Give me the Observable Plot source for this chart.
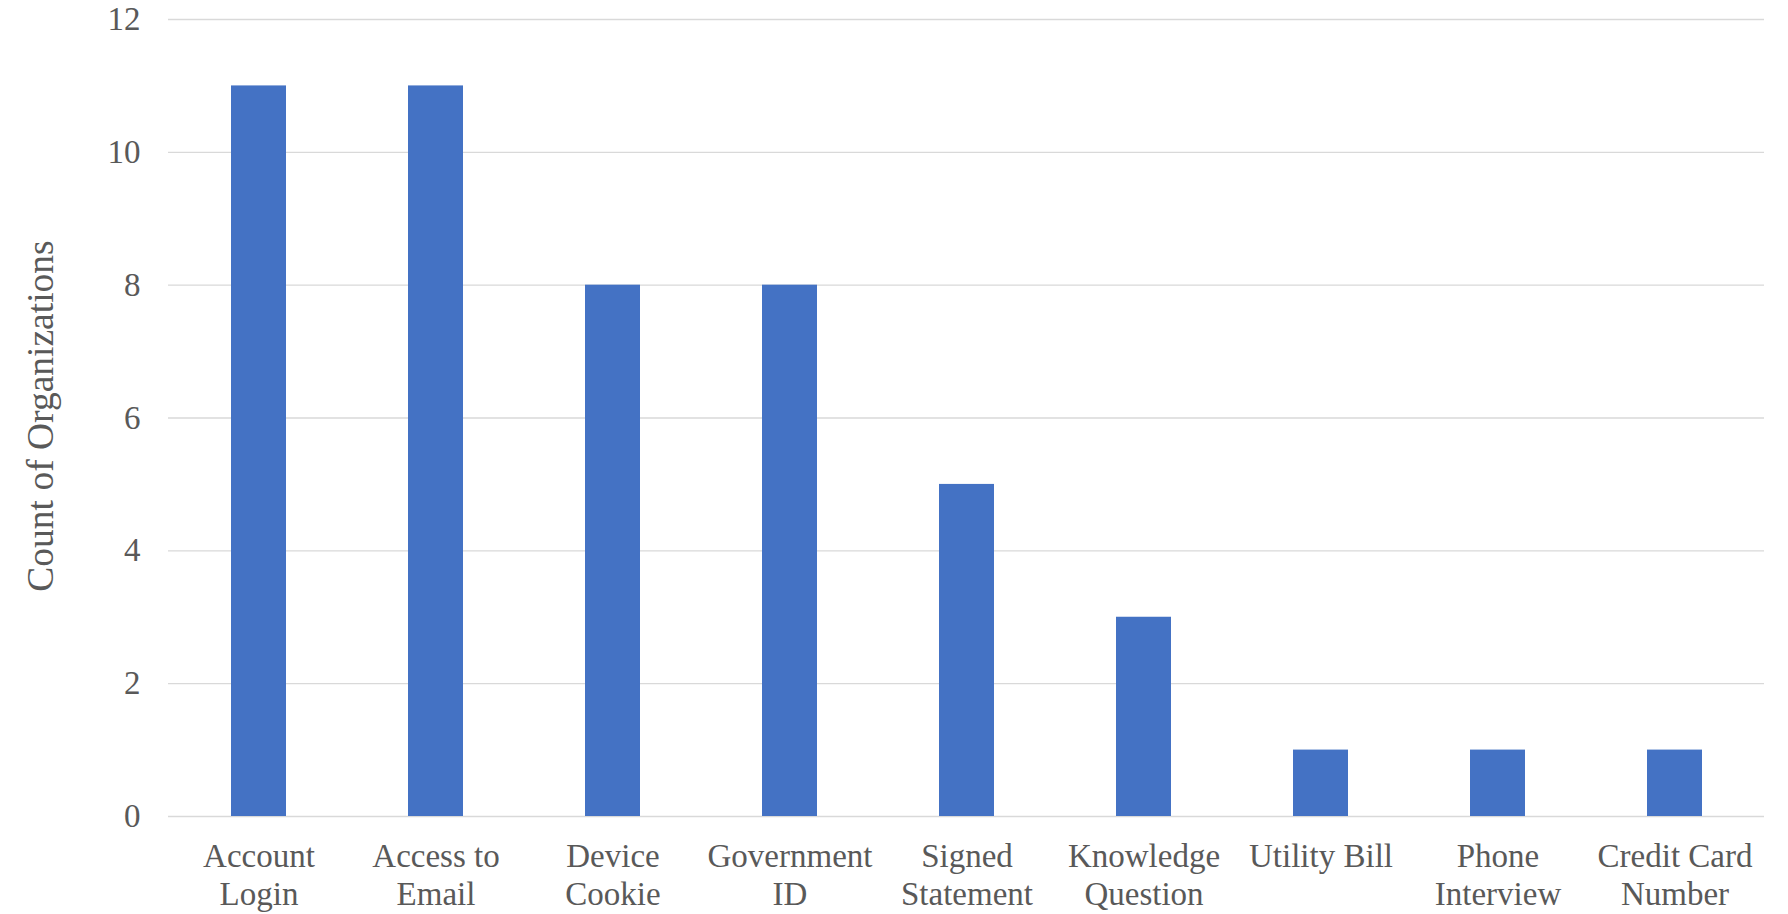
<!DOCTYPE html>
<html>
<head>
<meta charset="utf-8">
<script src="https://cdn.jsdelivr.net/npm/d3@7"></script>
<script src="https://cdn.jsdelivr.net/npm/@observablehq/plot@0.6"></script>
<style>
  html, body { margin: 0; padding: 0; background: #fff; }
  #chart svg { display: block; }
</style>
</head>
<body>
<div id="chart"></div>
<script>
const categories = ["Account Login", "Access to Email", "Device Cookie", "Government ID", "Signed Statement", "Knowledge Question", "Utility Bill", "Phone Interview", "Credit Card Number"];
const tickLabels = ["Account\nLogin", "Access to\nEmail", "Device\nCookie", "Government\nID", "Signed\nStatement", "Knowledge\nQuestion", "Utility Bill", "Phone\nInterview", "Credit Card\nNumber"];
const counts = [11, 11, 8, 8, 5, 3, 1, 1, 1];
const yTicks = [0, 2, 4, 6, 8, 10, 12];
const yTitle = ["Count of Organizations"];

const data = categories.map((c, i) => ({category: c, count: counts[i]}));
const labelOf = new Map(categories.map((c, i) => [c, tickLabels[i]]));

const textColor = "#595959";
const font = "'Liberation Serif', 'Times New Roman', serif";

const chart = Plot.plot({
  width: 1788,
  height: 914,
  marginLeft: 168,
  marginRight: 24,
  marginTop: 19,
  marginBottom: 98,
  style: {fontFamily: font, fontSize: "33px", color: textColor, background: "#fff"},
  x: {domain: categories, paddingInner: 0.69, paddingOuter: 0.345, label: null},
  y: {domain: [0, 12], label: null},
  marks: [
    Plot.gridY(yTicks, {stroke: "#d9d9d9", strokeOpacity: 1, strokeWidth: 1.4}),
    Plot.barY(data, {x: "category", y: "count", fill: "#4472c4"}),
    Plot.axisY(yTicks, {
      tickSize: 0, tickPadding: 28, fontSize: 33, fill: textColor,
      tickFormat: "d", label: null
    }),
    Plot.text(yTitle, {
      text: d => d, frameAnchor: "left", textAnchor: "middle", dx: -128, dy: -2, rotate: -90,
      fontSize: 37.5, fill: textColor
    }),
    Plot.axisX({
      tickSize: 0, tickPadding: 24, fontSize: 33, fill: textColor, lineHeight: 1.14,
      tickFormat: d => labelOf.get(d), label: null
    })
  ]
});
document.getElementById("chart").appendChild(chart);
</script>
</body>
</html>
